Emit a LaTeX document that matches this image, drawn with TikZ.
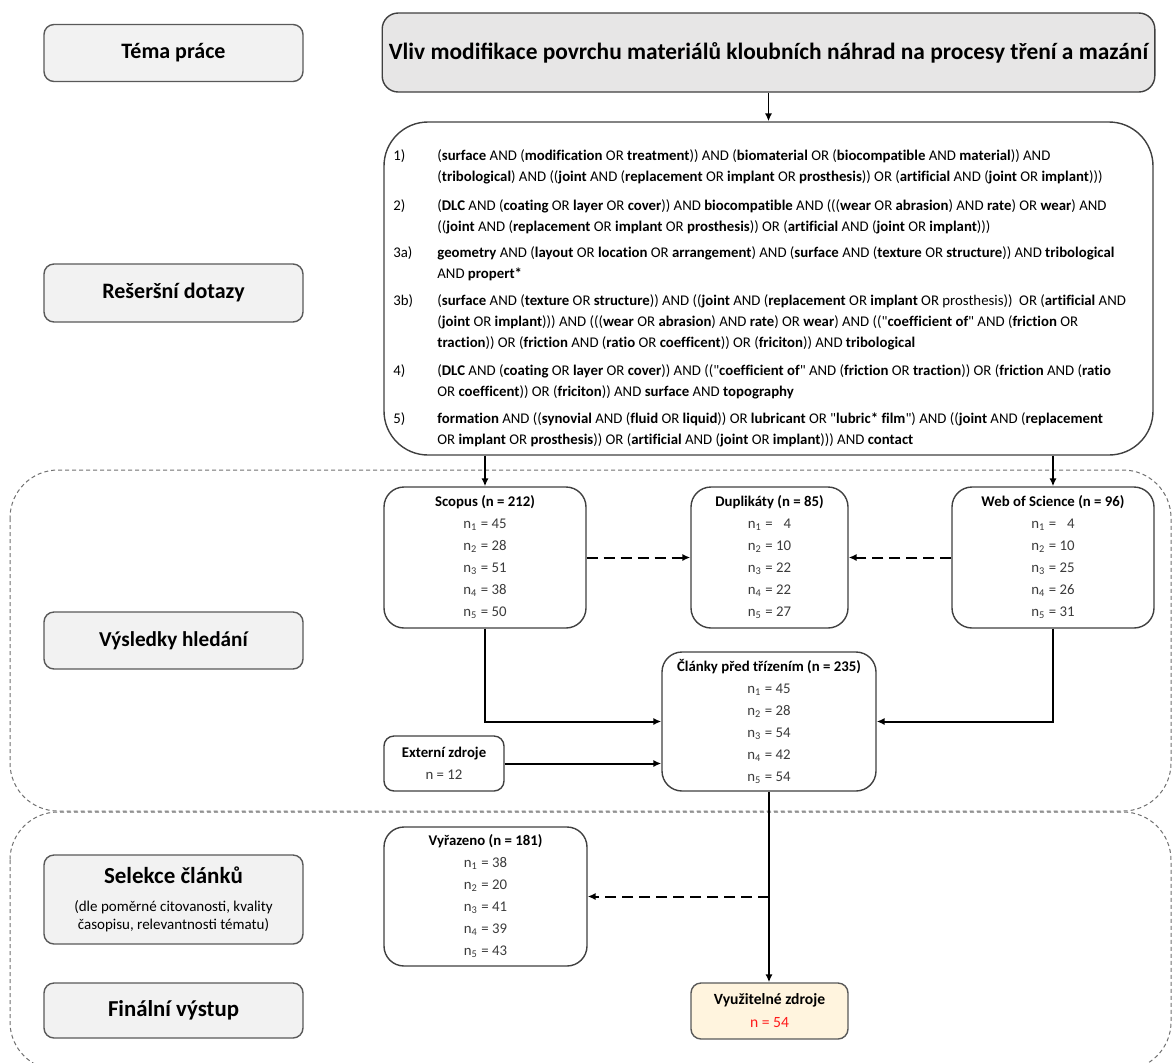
\documentclass[tikz,border=0pt]{standalone}
\usepackage{fontspec}
\setmainfont{Carlito}
\newfontfamily\dotazfont{Carlito}[Ligatures=NoCommon]
\usepackage{tikz}
\usetikzlibrary{arrows.meta, calc}

\definecolor{borde}{HTML}{404040}
\definecolor{bordelat}{HTML}{595959}
\definecolor{fondolat}{HTML}{F2F2F2}
\definecolor{fondotema}{HTML}{E7E6E6}
\definecolor{fondofin}{HTML}{FFF4DE}
\definecolor{gristexto}{HTML}{3B3B3B}
\definecolor{rojo}{HTML}{FF1A1A}
\definecolor{zona}{HTML}{707070}

\newcommand{\kw}[1]{\textbf{#1}}
\newcommand{\nn}[2]{n\textsubscript{#1} = #2}

\begin{document}
\begin{tikzpicture}[x=0.5pt, y=-0.5pt,
  ladobox/.style={draw=bordelat, fill=fondolat, line width=0.7pt, rounded corners=5pt,
    minimum width=129.5pt, minimum height=28.5pt, inner sep=0pt, align=center,
    font=\fontsize{11}{13}\selectfont\bfseries},
  cuentabox/.style={draw=borde, line width=0.7pt, rounded corners=10pt, fill=white,
    inner sep=0pt, align=center, text=gristexto, font=\fontsize{7.4}{11}\selectfont},
  dotaz/.style={anchor=base west, inner sep=0pt, font=\dotazfont\fontsize{7.4}{10.5}\selectfont},
  flecha/.style={line width=1pt, -{Latex[length=4pt,width=3.6pt]}},
  discont/.style={flecha, dash pattern=on 5.5pt off 3pt},
  zonabox/.style={draw=zona, line width=0.5pt, dash pattern=on 2pt off 1.5pt, rounded corners=24pt}]

\useasboundingbox (0,0) rectangle (1174,1062);
% zonas punteadas
\draw[zonabox] (10,470) rectangle (1171,811);
\draw[zonabox] (10,812) rectangle (1171,1070);

% columna izquierda
\node[ladobox] (tema) at (173.5,53) {Téma práce};
\node[ladobox, minimum height=29pt] (reserse) at (173.5,293) {Rešeršní dotazy};
\node[ladobox, font=\fontsize{10.6}{13}\selectfont\bfseries] (vysledky) at (173.5,640.5) {Výsledky hledání};
\node[ladobox, minimum height=44.5pt, font=\fontsize{7.5}{9}\selectfont] (selekce) at (173.5,899.5)
  {{\fontsize{11.5}{13}\selectfont\bfseries Selekce článků}\\[5pt]
   (dle poměrné citovanosti, kvality\\ časopisu, relevantnosti tématu)};
\node[ladobox, minimum height=27.5pt, font=\fontsize{11.4}{13}\selectfont\bfseries] (finalni) at (173.5,1010.5) {Finální výstup};

% tema y dotazy
\node[draw=borde, fill=fondotema, line width=0.7pt, rounded corners=8pt, minimum width=384.5pt,
  minimum height=39.5pt, font=\fontsize{11.7}{13}\selectfont\bfseries] (tema2) at (768.5,52.5)
  {Vliv modifikace povrchu materiálů kloubních náhrad na procesy tření a mazání};
\node[draw=borde, line width=0.7pt, rounded corners=22pt, minimum width=384.5pt,
  minimum height=166.5pt] (dotazy) at (768.5,288.5) {};

\node[dotaz] (q1) at (393,160) {\begin{tabular}[t]{@{}p{22pt}@{}l@{}}
  1) & (\kw{surface} AND (\kw{modification} OR \kw{treatment})) AND (\kw{biomaterial} OR (\kw{biocompatible} AND \kw{material})) AND\\
     & (\kw{tribological}) AND ((\kw{joint} AND (\kw{replacement} OR \kw{implant} OR \kw{prosthesis})) OR (\kw{artificial} AND (\kw{joint} OR \kw{implant})))
  \end{tabular}};
\node[dotaz] (q2) at (393,210) {\begin{tabular}[t]{@{}p{22pt}@{}l@{}}
  2) & (\kw{DLC} AND (\kw{coating} OR \kw{layer} OR \kw{cover})) AND \kw{biocompatible} AND (((\kw{wear} OR \kw{abrasion}) AND \kw{rate}) OR \kw{wear}) AND\\
     & ((\kw{joint} AND (\kw{replacement} OR \kw{implant} OR \kw{prosthesis})) OR (\kw{artificial} AND (\kw{joint} OR \kw{implant})))
  \end{tabular}};
\node[dotaz] (q3a) at (393,257) {\begin{tabular}[t]{@{}p{22pt}@{}l@{}}
  3a) & \kw{geometry} AND (\kw{layout} OR \kw{location} OR \kw{arrangement}) AND (\kw{surface} AND (\kw{texture} OR \kw{structure})) AND \kw{tribological}\\
      & AND \kw{propert*}
  \end{tabular}};
\node[dotaz] (q3b) at (393,305) {\begin{tabular}[t]{@{}p{22pt}@{}l@{}}
  3b) & (\kw{surface} AND (\kw{texture} OR \kw{structure})) AND ((\kw{joint} AND (\kw{replacement} OR \kw{implant} OR prosthesis))\ \ OR (\kw{artificial} AND\\
      & (\kw{joint} OR \kw{implant}))) AND (((\kw{wear} OR \kw{abrasion}) AND \kw{rate}) OR \kw{wear}) AND (("\kw{coefficient of}" AND (\kw{friction} OR\\
      & \kw{traction})) OR (\kw{friction} AND (\kw{ratio} OR \kw{coefficent})) OR (\kw{friciton})) AND \kw{tribological}
  \end{tabular}};
\node[dotaz] (q4) at (393,375) {\begin{tabular}[t]{@{}p{22pt}@{}l@{}}
  4) & (\kw{DLC} AND (\kw{coating} OR \kw{layer} OR \kw{cover})) AND (("\kw{coefficient of}" AND (\kw{friction} OR \kw{traction})) OR (\kw{friction} AND (\kw{ratio}\\
     & OR \kw{coefficent})) OR (\kw{friciton})) AND \kw{surface} AND \kw{topography}
  \end{tabular}};
\node[dotaz] (q5) at (393,423) {\begin{tabular}[t]{@{}p{22pt}@{}l@{}}
  5) & \kw{formation} AND ((\kw{synovial} AND (\kw{fluid} OR \kw{liquid})) OR \kw{lubricant} OR "\kw{lubric* film}") AND ((\kw{joint} AND (\kw{replacement}\\
     & OR \kw{implant} OR \kw{prosthesis})) OR (\kw{artificial} AND (\kw{joint} OR \kw{implant}))) AND \kw{contact}
  \end{tabular}};

% vysledky hledani
\node[cuentabox, minimum width=101pt, minimum height=70.5pt] (scopus) at (485,557.5)
  {\textcolor{black}{\textbf{Scopus (n = 212)}}\\ \nn{1}{45}\\ \nn{2}{28}\\ \nn{3}{51}\\ \nn{4}{38}\\ \nn{5}{50}};
\node[cuentabox, minimum width=78.5pt, minimum height=70.5pt] (duplikaty) at (769.5,557.5)
  {\textcolor{black}{\textbf{Duplikáty (n = 85)}}\\ \nn{1}{\phantom{0}4}\\ \nn{2}{10}\\ \nn{3}{22}\\ \nn{4}{22}\\ \nn{5}{27}};
\node[cuentabox, minimum width=101pt, minimum height=70.5pt] (wos) at (1053,557.5)
  {\textcolor{black}{\textbf{Web of Science (n = 96)}}\\ \nn{1}{\phantom{0}4}\\ \nn{2}{10}\\ \nn{3}{25}\\ \nn{4}{26}\\ \nn{5}{31}};
\node[cuentabox, minimum width=107pt, minimum height=69.5pt] (clanky) at (769,721.5)
  {\textcolor{black}{\textbf{Články před třízením (n = 235)}}\\ \nn{1}{45}\\ \nn{2}{28}\\ \nn{3}{54}\\ \nn{4}{42}\\ \nn{5}{54}};
\node[cuentabox, rounded corners=5pt, minimum width=60pt, minimum height=27.5pt] (externi) at (444,763.5)
  {\textcolor{black}{\textbf{Externí zdroje}}\\ n = 12};

% selekce
\node[cuentabox, minimum width=101.5pt, minimum height=69.5pt] (vyrazeno) at (485.5,896.5)
  {\textcolor{black}{\textbf{Vyřazeno (n = 181)}}\\ \nn{1}{38}\\ \nn{2}{20}\\ \nn{3}{41}\\ \nn{4}{39}\\ \nn{5}{43}};
\node[draw=bordelat, fill=fondofin, line width=0.7pt, rounded corners=5pt, minimum width=78.5pt,
  minimum height=28pt, inner sep=0pt, align=center, font=\fontsize{7.8}{11.5}\selectfont] (zdroje) at (769.5,1011)
  {\textbf{Využitelné zdroje}\\ \textcolor{rojo}{n = 54}};

% conexiones
\draw[flecha, line width=0.8pt] (tema2) -- (dotazy);
\draw[flecha] (dotazy.south -| scopus) -- (scopus.north);
\draw[flecha] (dotazy.south -| wos) -- (wos.north);
\draw[discont] (scopus) -- (duplikaty);
\draw[discont] (wos) -- (duplikaty);
\draw[flecha] (scopus.south) |- (clanky.west);
\draw[flecha] (wos.south) |- (clanky.east);
\draw[flecha] (externi.east) -- (externi.east -| clanky.west);
\draw[flecha] (clanky.south) -- (clanky.south |- zdroje.north);
\coordinate (odbocka) at (clanky.south |- vyrazeno.east);
\draw[discont] (odbocka) -- (vyrazeno.east);
\end{tikzpicture}
\end{document}
